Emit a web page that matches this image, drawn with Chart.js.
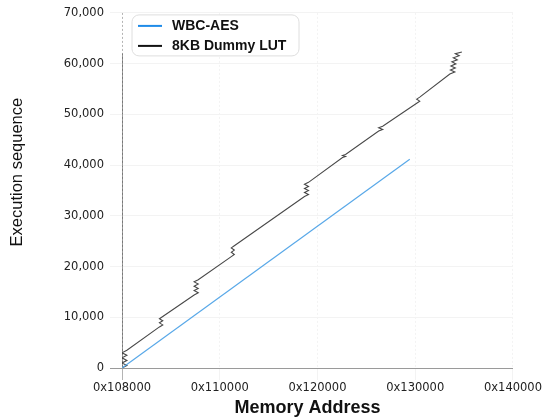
<!DOCTYPE html>
<html>
<head>
<meta charset="utf-8">
<script src="https://cdn.jsdelivr.net/npm/chart.js@4/dist/chart.umd.min.js"></script>
<style>
  body { margin: 0; background: #fff; }
  #wrap { width: 543px; height: 417px; position: relative; }
</style>
</head>
<body>
<div id="wrap"><canvas id="traceChart"></canvas></div>
<script>
// Axis labels (x is evenly spaced, one slot per address label)
const addrLabels = ['0x108000', '0x110000', '0x120000', '0x130000', '0x140000'];
const seqTicks = [0, 10000, 20000, 30000, 40000, 50000, 60000, 70000];

// WBC-AES trace: a single straight run
const wbcX = [0, 2.944];
const wbcY = [0, 41130];

// 8KB Dummy LUT trace: straight runs broken by zigzag stacks
const lutX = [
    0, 0,
    0.05, 0, 0.05, 0, 0.05, 0, 0.05,
    0.383, 0.417, 0.383, 0.417, 0.383, 0.417,
    0.738, 0.78, 0.738, 0.78, 0.738, 0.78, 0.738, 0.78,
    1.118, 1.149, 1.118, 1.149, 1.118, 1.149,
    1.867, 1.908, 1.867, 1.908, 1.867, 1.908, 1.867, 1.908,
    2.256, 2.287, 2.256, 2.287,
    2.626, 2.667, 2.626, 2.667,
    3.015, 3.046, 3.015, 3.046,
    3.354, 3.405, 3.36, 3.41, 3.365, 3.415, 3.375, 3.43, 3.39, 3.45, 3.41, 3.477
];
const lutY = [
    62000, 0,
    500, 1000, 1500, 2000, 2500, 3000, 3500,
    8100, 8500, 8900, 9300, 9700, 10150,
    14400, 14830, 15260, 15690, 16120, 16550, 16980, 17400,
    21950, 22380, 22810, 23240, 23670, 24100,
    33800, 34200, 34600, 35000, 35400, 35800, 36200, 36600,
    41500, 41700, 41900, 42100,
    46700, 47020, 47340, 47650,
    52200, 52600, 53000, 53400,
    57950, 58350, 58750, 59150, 59550, 59950, 60350, 60750, 61150, 61550, 61950, 62300
];

const seriesNames = ['WBC-AES', '8KB Dummy LUT'];
const seriesColors = ['#58a8e8', '#484848'];
const legendColors = ['#1f8be8', '#111111'];

function toPoints(xs, ys) {
    return xs.map((x, i) => ({ x: x, y: ys[i] }));
}

// Legend drawn as a rounded box inside the plot area
const boxLegend = {
    id: 'boxLegend',
    afterDraw(chart) {
        const ctx = chart.ctx;
        const area = chart.chartArea;
        const left = area.left + 10;
        const top = area.top + 2;
        const w = 167, h = 41, r = 7;
        ctx.save();
        ctx.beginPath();
        ctx.roundRect(left, top, w, h, r);
        ctx.fillStyle = 'rgba(255,255,255,0.96)';
        ctx.fill();
        ctx.strokeStyle = '#dedede';
        ctx.lineWidth = 1;
        ctx.stroke();
        ctx.font = 'bold 14px "Liberation Sans", Arial, sans-serif';
        ctx.textBaseline = 'middle';
        chart.data.datasets.forEach((ds, i) => {
            const y = top + 11 + i * 20;
            ctx.beginPath();
            ctx.moveTo(left + 6, y);
            ctx.lineTo(left + 30, y);
            ctx.strokeStyle = legendColors[i];
            ctx.lineWidth = 2;
            ctx.stroke();
            ctx.fillStyle = '#111';
            ctx.fillText(ds.label, left + 40, y);
        });
        ctx.restore();
    }
};

const tickFont = { family: '"DejaVu Sans", sans-serif', size: 11.5 };

new Chart(document.getElementById('traceChart'), {
    type: 'line',
    data: {
        datasets: [
            {
                label: seriesNames[0],
                data: toPoints(wbcX, wbcY),
                borderColor: seriesColors[0],
                backgroundColor: seriesColors[0],
                borderWidth: 1.2,
                pointRadius: 0,
                tension: 0
            },
            {
                label: seriesNames[1],
                data: toPoints(lutX, lutY),
                borderColor: seriesColors[1],
                backgroundColor: seriesColors[1],
                borderWidth: 1.1,
                pointRadius: 0,
                tension: 0
            }
        ]
    },
    options: {
        responsive: true,
        maintainAspectRatio: false,
        animation: false,
        layout: { padding: { top: 10, left: 0, bottom: 0 } },
        plugins: {
            legend: { display: false },
            tooltip: { enabled: false }
        },
        scales: {
            x: {
                type: 'linear',
                min: 0,
                max: addrLabels.length - 1,
                afterFit: (scale) => { scale.height = 49; },
                afterBuildTicks: (scale) => {
                    scale.ticks = addrLabels.map((_, i) => ({ value: i }));
                },
                ticks: {
                    color: '#222',
                    font: tickFont,
                    padding: 1,
                    maxRotation: 0,
                    callback: (v) => addrLabels[v]
                },
                grid: {
                    color: (c) => c.index === 0 ? '#b4b4b4' : '#f3f3f3',
                    tickLength: 12
                },
                border: { display: false, dash: [2, 2] },
                title: {
                    display: true,
                    // trailing spaces nudge the centred title a little left, as in the original
                    text: 'Memory Address    ',
                    color: '#111',
                    font: { family: '"Liberation Sans", Arial, sans-serif', size: 18, weight: 'bold', lineHeight: 1 },
                    padding: { top: 0, bottom: 0 }
                }
            },
            y: {
                min: 0,
                max: 70000,
                afterFit: (scale) => { scale.width = 122; },
                afterBuildTicks: (scale) => {
                    scale.ticks = seqTicks.map((v) => ({ value: v }));
                },
                ticks: {
                    color: '#222',
                    font: tickFont,
                    padding: 6,
                    callback: (v) => v.toLocaleString('en-US')
                },
                grid: {
                    color: (c) => c.tick && c.tick.value === 0 ? '#9a9a9a' : '#f3f3f3',
                    tickLength: 12
                },
                border: { display: false },
                title: {
                    display: true,
                    // leading spaces lift the rotated title, it sits above centre in the original
                    text: '        Execution sequence',
                    color: '#111',
                    font: { family: '"Liberation Sans", Arial, sans-serif', size: 16.5 },
                    padding: { top: 8, bottom: 0 }
                }
            }
        }
    },
    plugins: [boxLegend]
});
</script>
</body>
</html>
